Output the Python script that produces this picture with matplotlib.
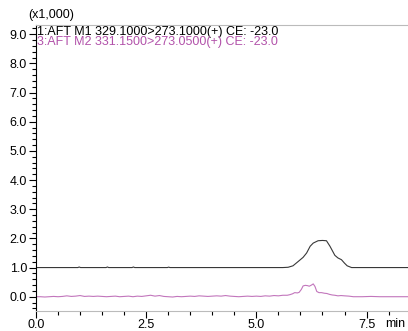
import numpy as np
import matplotlib
matplotlib.use('Agg')
import matplotlib.pyplot as plt
from matplotlib.ticker import MultipleLocator

plt.rcParams['font.family'] = ['Liberation Sans', 'DejaVu Sans']

# canal 1 (negro), intensidad x1000
t_m1 = [0.0, 0.95, 0.98, 1.01, 1.59, 1.62, 1.65, 2.18, 2.21, 2.24, 2.98, 3.01, 3.04,
        5.6, 5.72, 5.83, 5.95, 6.06, 6.14, 6.22, 6.29, 6.4, 6.5, 6.59, 6.67, 6.78,
        6.85, 6.93, 7.0, 7.06, 7.16, 8.44]
v_m1 = [1.0, 1.0, 1.02, 1.0, 1.0, 1.02, 1.0, 1.0, 1.02, 1.0, 1.0, 1.015, 1.0,
        1.0, 1.01, 1.06, 1.21, 1.35, 1.5, 1.73, 1.84, 1.92, 1.93, 1.92, 1.73, 1.42,
        1.33, 1.27, 1.15, 1.06, 1.0, 1.0]

# canal 3 (rosa)
t_m2 = [0.0, 0.1, 0.2, 0.3, 0.4, 0.5, 0.6, 0.7, 0.8, 0.9, 1.0, 1.1, 1.2, 1.3, 1.4,
        1.5, 1.6, 1.7, 1.8, 1.9, 2.0, 2.1, 2.2, 2.3, 2.4, 2.5, 2.6, 2.7, 2.8, 2.9,
        3.0, 3.1, 3.2, 3.3, 3.4, 3.5, 3.6, 3.7, 3.8, 3.9, 4.0, 4.1, 4.2, 4.3, 4.4,
        4.5, 4.6, 4.7, 4.8, 4.9, 5.0, 5.1, 5.2, 5.3, 5.4, 5.5, 5.6,
        5.7, 5.76, 5.82, 5.87, 5.93, 5.97, 6.02, 6.06, 6.11, 6.16, 6.2, 6.25, 6.29,
        6.33, 6.37, 6.42, 6.48, 6.54, 6.6, 6.66, 6.72, 6.78, 6.85, 6.92, 7.0, 7.1,
        7.2, 7.4, 7.6, 7.8, 8.0, 8.2, 8.44]
v_m2 = [0.0, 0.0, -0.01, 0.0, 0.01, 0.0, 0.01, 0.03, 0.01, 0.02, 0.04, 0.01, 0.02,
        0.01, 0.02, 0.01, 0.0, 0.01, 0.02, 0.0, 0.01, 0.02, 0.0, 0.02, 0.01, 0.03,
        0.05, 0.02, 0.04, 0.01, 0.0, -0.01, 0.01, 0.0, 0.01, 0.02, 0.01, 0.03, 0.02,
        0.01, 0.02, 0.03, 0.02, 0.04, 0.02, 0.01, 0.0, 0.01, 0.02, 0.01, 0.02, 0.01,
        0.03, 0.02, 0.04, 0.03, 0.05,
        0.05, 0.07, 0.1, 0.14, 0.13, 0.15, 0.25, 0.37, 0.39, 0.38, 0.36, 0.4, 0.44,
        0.35, 0.18, 0.14, 0.14, 0.12, 0.11, 0.08, 0.06, 0.05, 0.03, 0.04, 0.03, 0.02,
        0.0, 0.0, 0.01, 0.0, 0.0, 0.0, 0.0]

etiqueta_m1 = '1:AFT M1 329.1000>273.1000(+) CE: -23.0'
etiqueta_m2 = '3:AFT M2 331.1500>273.0500(+) CE: -23.0'

negro = '#383838'
rosa_linea = '#c276bc'
rosa_texto = '#b252aa'

fig = plt.figure(figsize=(4.08, 3.31), dpi=100)
ax = fig.add_axes([36 / 408, 20 / 331, 1 - 36 / 408, 286 / 331])

ax.plot(t_m1, v_m1, color=negro, linewidth=0.8)
ax.plot(t_m2, v_m2, color=rosa_linea, linewidth=0.8)

ax.set_xlim(0, 8.44)
ax.set_ylim(-0.49, 9.32)

ax.xaxis.set_minor_locator(MultipleLocator(0.5))
ax.yaxis.set_minor_locator(MultipleLocator(0.2))
ax.set_xticks([0, 2.5, 5.0, 7.5])
ax.set_xticklabels(['0.0', '2.5', '5.0', '7.5'])
ax.set_yticks(np.arange(0, 9.5, 1.0))
ax.set_yticklabels(['%.1f' % v for v in np.arange(0, 9.5, 1.0)])

ax.tick_params(axis='both', which='major', labelsize=9, length=5, width=0.8,
               color='black', pad=1.5)
ax.tick_params(axis='x', which='major', length=5, pad=0.5)
ax.tick_params(axis='both', which='minor', length=3, width=0.8, color='black')

ax.spines['right'].set_visible(False)
ax.spines['left'].set_color('black')
ax.spines['bottom'].set_color('#bbbbbb')
ax.spines['top'].set_color('#bbbbbb')
for s in ax.spines.values():
    s.set_linewidth(0.8)

fig.text(28 / 408, 1 - 15 / 331, '(x1,000)', fontsize=9, va='center', ha='left')
fig.text(395 / 408, 1 - 324 / 331, 'min', fontsize=9, va='center', ha='center')
fig.text(37 / 408, 1 - 31.5 / 331, etiqueta_m1, fontsize=9, va='center', ha='left',
         color='black')
fig.text(37 / 408, 1 - 42.5 / 331, etiqueta_m2, fontsize=9, va='center', ha='left',
         color=rosa_texto)

fig.savefig('out.png', dpi=100)
